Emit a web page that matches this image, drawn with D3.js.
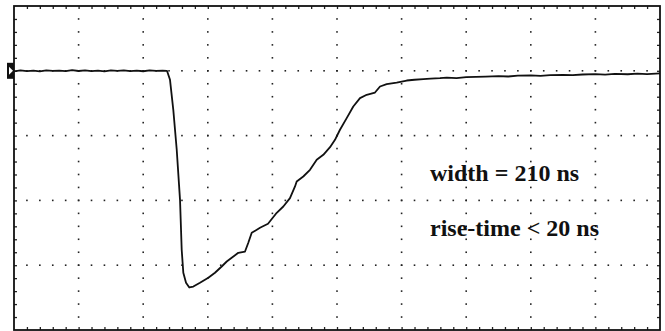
<!DOCTYPE html>
<html>
<head>
<meta charset="utf-8">
<script src="https://cdn.jsdelivr.net/npm/d3@7"></script>
<style>
  body { margin: 0; background: #fff; }
  svg { display: block; }
</style>
</head>
<body>
<svg id="canvas"></svg>
<script>
// scope trace, time in ns (100 ns / div), amplitude in divisions (0 = baseline)
let timeNs = [
    0, 10, 20, 30, 40, 50, 60, 70, 80, 90, 100, 110, 120, 130, 140, 150, 160, 170, 180, 190, 200, 210, 220, 230,
    236.8, 241.5, 246.6, 251.9, 257.0, 259.6, 262.1, 266.3, 271.4, 277.6, 287.9, 300.8, 311.1, 321.5, 329.3,
    337.0, 347.2, 357.6, 362.7, 368.0, 380.8, 393.2, 406.7, 416.9, 427.2, 435.0, 437.6, 447.8, 458.2, 468.6,
    478.8, 489.2, 496.9, 504.6, 515.0, 525.2, 535.6, 546.0, 558.8, 566.6, 576.9, 592.4, 607.9, 620, 633.6,
    645, 659.4, 670, 685, 700, 715, 730, 750, 765, 780, 800, 815, 830, 850, 865, 880, 900, 915, 930, 950,
    965, 980, 1000
];
let amplitude = [
    -0.008, 0.006, -0.004, 0.003, -0.009, 0.008, -0.002, 0.004, -0.006, 0.009, -0.003, 0.007, -0.005, 0.002,
    -0.008, 0.005, -0.001, 0.008, -0.004, 0.003, -0.007, 0.006, -0.002, 0.001,
    0, -0.139, -0.602, -1.219, -1.991, -2.762, -3.117, -3.272, -3.344, -3.329, -3.272, -3.194, -3.117, -3.020,
    -2.943, -2.886, -2.809, -2.789, -2.654, -2.500, -2.423, -2.361, -2.191, -2.094, -1.965, -1.785, -1.708,
    -1.631, -1.528, -1.373, -1.296, -1.178, -1.065, -0.910, -0.730, -0.551, -0.421, -0.370, -0.335, -0.242,
    -0.206, -0.181, -0.150, -0.138, -0.128, -0.120, -0.113, -0.105, -0.112, -0.098, -0.094, -0.090, -0.082,
    -0.088, -0.076, -0.072, -0.078, -0.066, -0.062, -0.068, -0.057, -0.052, -0.058, -0.047, -0.053, -0.044,
    -0.050, -0.041
];
let notes = ['width = 210 ns', 'rise-time < 20 ns'];
let noteTop = [-1.7, -2.55]; // baseline position of each note, in divisions

let width = 665;
let height = 331;

const canvas = d3.select('#canvas').attr('width', width).attr('height', height);

const x = d3.scaleLinear().domain([0, 1000]).range([14, 660]);
const y = d3.scaleLinear().domain([1, -4]).range([6, 330]);

const majorX = d3.range(100, 1000, 100);
const majorY = d3.range(0, -4, -1);
const minorX = d3.range(20, 1000, 20);
const minorY = d3.range(0.8, -4, -0.2).map((v) => +v.toFixed(1));

// dotted graticule
const grid = canvas.append('g').attr('fill', '#222');
majorX.forEach((t) => {
    grid.selectAll(null)
        .data(minorY)
        .enter()
        .append('rect')
        .attr('x', x(t) - 0.8)
        .attr('y', (d) => y(d) - 0.8)
        .attr('width', 1.6)
        .attr('height', 1.6);
});
majorY.forEach((v) => {
    grid.selectAll(null)
        .data(minorX)
        .enter()
        .append('rect')
        .attr('x', (d) => x(d) - 0.8)
        .attr('y', y(v) - 0.8)
        .attr('width', 1.6)
        .attr('height', 1.6);
});

// edge ticks, pointing inward
const tickAxes = [
    [d3.axisTop(x).tickValues(minorX).tickSize(-3), `translate(0,${y(1)})`],
    [d3.axisBottom(x).tickValues(minorX).tickSize(-3), `translate(0,${y(-4)})`],
    [d3.axisLeft(y).tickValues(minorY).tickSize(-3), `translate(${x(0)},0)`],
    [d3.axisRight(y).tickValues(minorY).tickSize(-3), `translate(${x(1000)},0)`]
];
tickAxes.forEach(([ax, tr]) => {
    const g = canvas.append('g').attr('transform', tr).call(ax.tickFormat(''));
    g.select('.domain').remove();
    g.selectAll('line').attr('stroke', '#222').attr('stroke-width', 1.3);
});

// frame
canvas.append('rect')
    .attr('x', x(0))
    .attr('y', y(1))
    .attr('width', x(1000) - x(0))
    .attr('height', y(-4) - y(1))
    .attr('fill', 'none')
    .attr('stroke', '#111')
    .attr('stroke-width', 1.8);

// channel marker on the left
canvas.append('rect')
    .attr('x', x(0) - 7)
    .attr('y', y(0) - 8)
    .attr('width', 7)
    .attr('height', 16)
    .attr('fill', '#111');
canvas.append('path')
    .attr('d', `M${x(0) - 5},${y(0) - 4}L${x(0) - 1},${y(0)}L${x(0) - 5},${y(0) + 4}Z`)
    .attr('fill', '#fff');

// trace
const line = d3.line()
    .x((d, i) => x(timeNs[i]))
    .y((d) => y(d))
    .curve(d3.curveLinear);

canvas.append('path')
    .datum(amplitude)
    .attr('d', line)
    .attr('fill', 'none')
    .attr('stroke', '#111')
    .attr('stroke-width', 1.8)
    .attr('stroke-linejoin', 'round');

// annotations
canvas.selectAll('text.note')
    .data(notes)
    .enter()
    .append('text')
    .attr('class', 'note')
    .attr('x', x(644))
    .attr('y', (d, i) => y(noteTop[i]))
    .attr('font-family', '"Liberation Serif", "Times New Roman", serif')
    .attr('font-weight', 'bold')
    .attr('font-size', 24)
    .attr('fill', '#111')
    .text((d) => d);
</script>
</body>
</html>
